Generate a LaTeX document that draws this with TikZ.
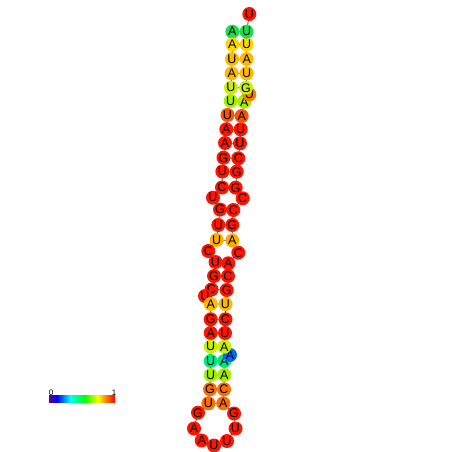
\documentclass[tikz,border=0pt]{standalone}
\usepackage{fontspec}
\setmainfont{Liberation Sans}
\usetikzlibrary{backgrounds}
\definecolor{Ink}{HTML}{4A4A4A}
\definecolor{Hot}{HTML}{FF1400}
\definecolor{Vermil}{HTML}{FF5200}
\definecolor{Tangerine}{HTML}{FF6E00}
\definecolor{Ember}{HTML}{FF7A00}
\definecolor{Orange}{HTML}{FFAE00}
\definecolor{Amber}{HTML}{FFBA00}
\definecolor{Gold}{HTML}{FFD600}
\definecolor{Lime}{HTML}{C8F000}
\definecolor{LimeDeep}{HTML}{A6EE00}
\definecolor{Leaf}{HTML}{20DC50}
\definecolor{Mint}{HTML}{00E682}
\definecolor{Azure}{HTML}{0064FF}
\pgfdeclarehorizontalshading{relbar}{100bp}{color(0bp)=(violet!70!blue);
  color(25bp)=(violet!70!blue); color(31bp)=(blue); color(41bp)=(cyan);
  color(52bp)=(green); color(62bp)=(yellow); color(68bp)=(orange);
  color(75bp)=(red); color(100bp)=(red)}

\begin{document}
\begin{tikzpicture}[x=1pt,y=-1pt,
    nt/.style={circle,fill=Hot,minimum size=14pt,inner sep=0pt,
      font=\fontsize{12.5}{12.5}\selectfont},
    backbone/.style={draw=Ink,line width=0.8pt},
    pair/.style={draw=Ink,line width=0.8pt},
    scalelabel/.style={font=\fontsize{8}{8}\selectfont,inner sep=0pt}
  ]
  \useasboundingbox (0,0) rectangle (452,452);
  % 5' strand, top to hairpin
  \node[nt,fill=Leaf] (n1) at (232.3,31.7) {A};
  \node[nt,fill=Gold] (n2) at (232.3,44.5) {A};
  \node[nt,fill=Amber] (n3) at (232,59) {U};
  \node[nt,fill=Amber] (n4) at (231.7,73.3) {A};
  \node[nt,fill=Lime] (n5) at (231,87.7) {U};
  \node[nt,fill=LimeDeep] (n6) at (230.7,101) {U};
  \node[nt,fill=Vermil] (n7) at (227.5,115) {U};
  \node[nt] (n8) at (226.3,129.3) {A};
  \node[nt] (n9) at (225,143) {A};
  \node[nt] (n10) at (223.5,157.7) {G};
  \node[nt] (n11) at (222.3,171.5) {U};
  \node[nt] (n12) at (222,187.5) {C};
  \node[nt] (n13) at (213,197.7) {U};
  \node[nt] (n14) at (220,209.5) {G};
  \node[nt] (n15) at (218.3,225) {U};
  \node[nt,fill=Orange] (n16) at (216.7,240) {U};
  \node[nt] (n17) at (208.3,251) {C};
  \node[nt] (n18) at (215.5,262) {U};
  \node[nt] (n19) at (214,276) {G};
  \node[nt] (n20) at (211.5,289.5) {C};
  \node[nt] (n21) at (205,296) {U};
  \node[nt,fill=Amber] (n22) at (210.7,304) {A};
  \node[nt] (n23) at (210.7,319.3) {G};
  \node[nt] (n24) at (210.7,333) {A};
  \node[nt,fill=Lime] (n25) at (210.7,346.7) {U};
  \node[nt,fill=Mint] (n26) at (210.7,361) {U};
  \node[nt,fill=LimeDeep] (n27) at (210.7,375) {U};
  \node[nt,fill=Tangerine] (n28) at (210,389.3) {G};
  \node[nt,fill=Tangerine] (n29) at (208.3,403.3) {U};
  % hairpin loop
  \node[nt] (n30) at (198,412.7) {G};
  \node[nt] (n31) at (194,428.5) {A};
  \node[nt] (n32) at (201.7,440.5) {A};
  \node[nt] (n33) at (214,445.5) {U};
  \node[nt] (n34) at (227,441) {U};
  \node[nt] (n35) at (235.5,428.5) {U};
  \node[nt] (n36) at (234,413.5) {G};
  % 3' strand, hairpin to top
  \node[nt,fill=Tangerine] (n37) at (223.3,403.3) {A};
  \node[nt,fill=Tangerine] (n38) at (224,389.3) {C};
  \node[nt,fill=LimeDeep] (n39) at (224.3,375) {A};
  \node[nt,fill=Mint] (n40) at (224.3,361) {A};
  \node[nt,fill=Azure] (n41) at (230,355) {A};
  \node[nt,fill=Lime] (n42) at (224.3,346.7) {A};
  \node[nt] (n43) at (225,333) {U};
  \node[nt] (n44) at (225.5,319.3) {C};
  \node[nt,fill=Amber] (n45) at (225.5,304) {U};
  \node[nt] (n46) at (226.7,290) {G};
  \node[nt] (n47) at (228,276) {C};
  \node[nt] (n48) at (228.3,263.3) {A};
  \node[nt] (n49) at (238.3,252.7) {C};
  \node[nt,fill=Orange] (n50) at (232.3,240.5) {A};
  \node[nt] (n51) at (232.3,225) {G};
  \node[nt] (n52) at (233.3,210) {C};
  \node[nt] (n53) at (242.7,198.3) {C};
  \node[nt] (n54) at (235.7,187.7) {G};
  \node[nt] (n55) at (236.7,171.7) {G};
  \node[nt] (n56) at (238.3,158.3) {C};
  \node[nt] (n57) at (240,143.3) {U};
  \node[nt] (n58) at (240.7,129.3) {U};
  \node[nt,fill=Vermil] (n59) at (241.7,116) {A};
  \node[nt,fill=LimeDeep] (n60) at (244.3,101.7) {A};
  \node[nt,fill=Ember] (n61) at (249.3,94.3) {U};
  \node[nt,fill=Lime] (n62) at (246,87.7) {G};
  \node[nt,fill=Amber] (n63) at (246.7,73.3) {U};
  \node[nt,fill=Amber] (n64) at (246.7,59) {A};
  \node[nt,fill=Gold] (n65) at (246.7,44.5) {U};
  \node[nt,fill=Leaf] (n66) at (246.7,31.7) {U};
  \node[nt] (n67) at (249.3,14) {U};
  \begin{pgfonlayer}{background}
    \draw[backbone] (n1.center) -- (n2.center) -- (n3.center) -- (n4.center)
      -- (n5.center) -- (n6.center) -- (n7.center) -- (n8.center)
      -- (n9.center) -- (n10.center) -- (n11.center) -- (n12.center)
      -- (n13.center) -- (n14.center) -- (n15.center) -- (n16.center)
      -- (n17.center) -- (n18.center) -- (n19.center) -- (n20.center)
      -- (n21.center) -- (n22.center) -- (n23.center) -- (n24.center)
      -- (n25.center) -- (n26.center) -- (n27.center) -- (n28.center)
      -- (n29.center) -- (n30.center) -- (n31.center) -- (n32.center)
      -- (n33.center) -- (n34.center) -- (n35.center) -- (n36.center)
      -- (n37.center) -- (n38.center) -- (n39.center) -- (n40.center)
      -- (n41.center) -- (n42.center) -- (n43.center) -- (n44.center)
      -- (n45.center) -- (n46.center) -- (n47.center) -- (n48.center)
      -- (n49.center) -- (n50.center) -- (n51.center) -- (n52.center)
      -- (n53.center) -- (n54.center) -- (n55.center) -- (n56.center)
      -- (n57.center) -- (n58.center) -- (n59.center) -- (n60.center)
      -- (n61.center) -- (n62.center) -- (n63.center) -- (n64.center)
      -- (n65.center) -- (n66.center) -- (n67.center);
    % base pairs
    \draw[pair] (n1.center) -- (n66.center) (n2.center) -- (n65.center)
      (n3.center) -- (n64.center) (n4.center) -- (n63.center)
      (n5.center) -- (n62.center) (n6.center) -- (n60.center)
      (n7.center) -- (n59.center) (n8.center) -- (n58.center)
      (n9.center) -- (n57.center) (n10.center) -- (n56.center)
      (n11.center) -- (n55.center) (n12.center) -- (n54.center)
      (n14.center) -- (n52.center) (n15.center) -- (n51.center)
      (n16.center) -- (n50.center) (n18.center) -- (n48.center)
      (n19.center) -- (n47.center) (n20.center) -- (n46.center)
      (n22.center) -- (n45.center) (n23.center) -- (n44.center)
      (n24.center) -- (n43.center) (n25.center) -- (n42.center)
      (n26.center) -- (n40.center) (n27.center) -- (n39.center)
      (n28.center) -- (n38.center) (n29.center) -- (n37.center);
  \end{pgfonlayer}
  % colour scale
  \shade[shading=relbar] (49,395.7) rectangle (115,402.3);
  \node[scalelabel] (lo) at (51,392.5) {0};
  \node[scalelabel] (hi) at (114,392.5) {1};
\end{tikzpicture}
\end{document}
